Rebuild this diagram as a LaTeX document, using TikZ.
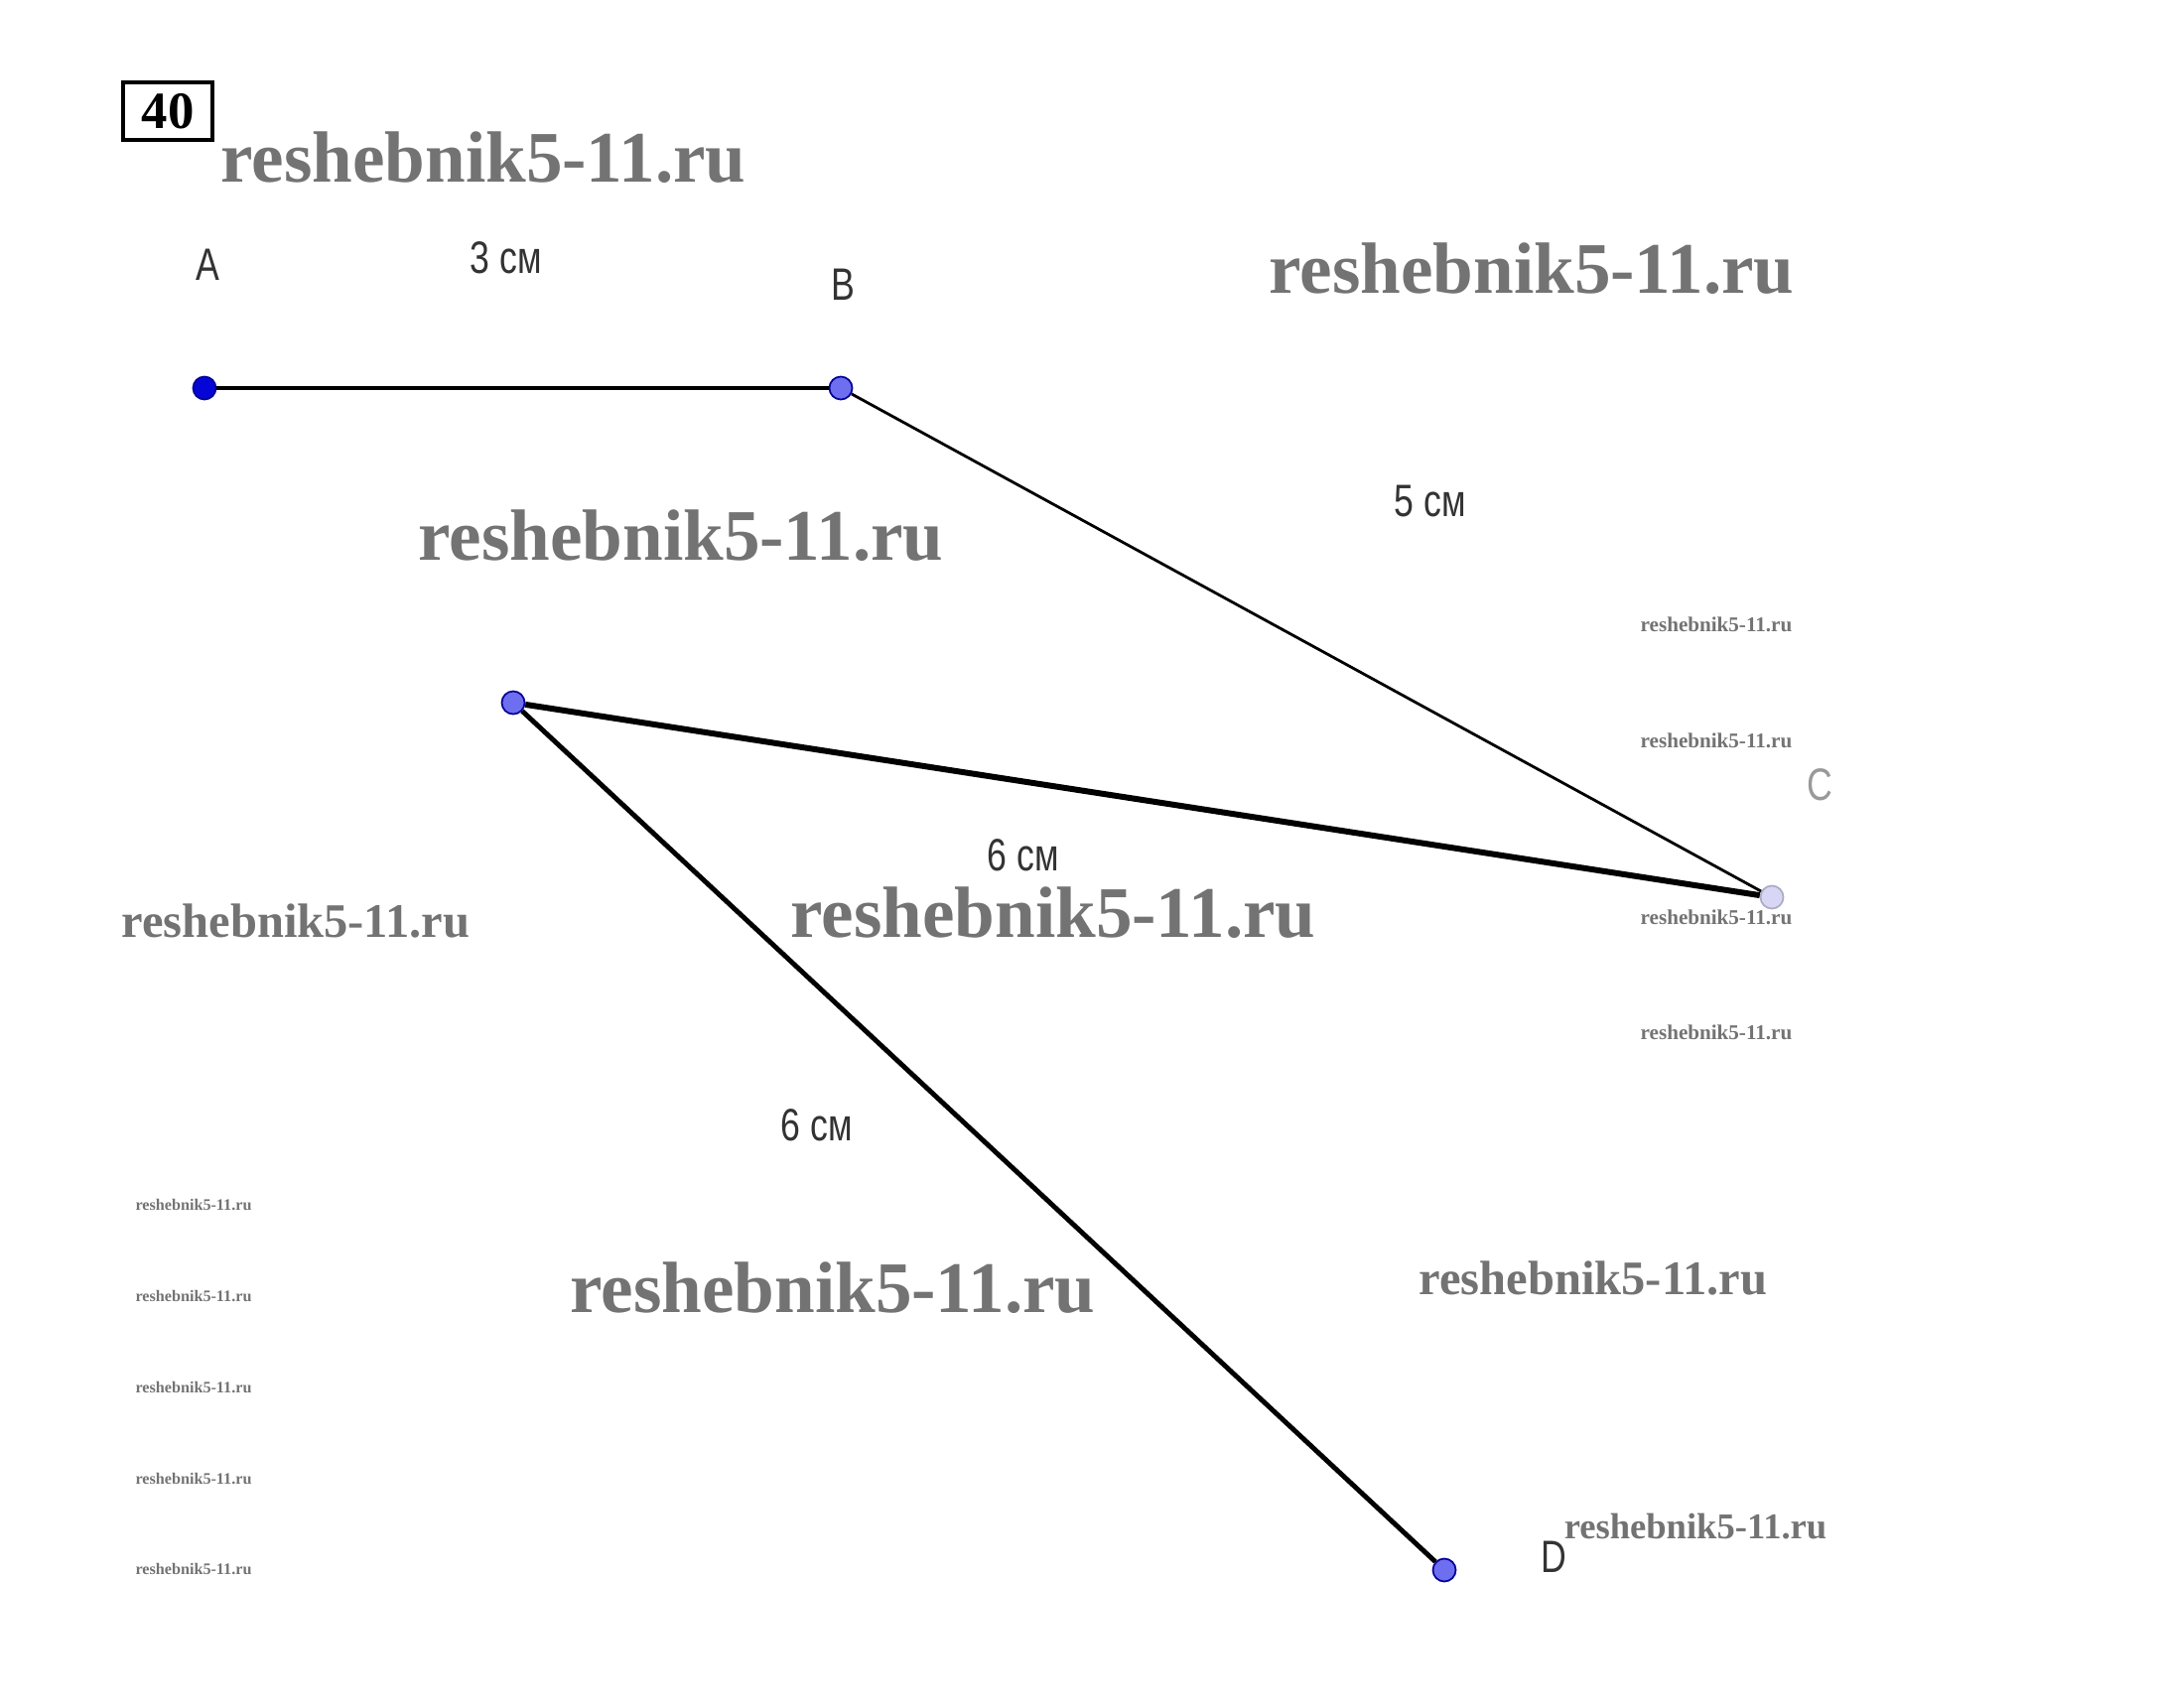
\documentclass[tikz,border=0pt]{standalone}
\usepackage{fontspec}
\setmainfont{Liberation Serif}
\newfontfamily\lblfont[FakeStretch=0.78]{Liberation Sans}
\usetikzlibrary{shapes}
\usetikzlibrary{arrows}
\definecolor{ptdark}{RGB}{5,5,215}
\definecolor{ptlight}{RGB}{110,110,240}
\definecolor{ptpale}{RGB}{215,215,245}
\definecolor{markgray}{RGB}{115,115,115}
\tikzset{
	point node/.style={circle,draw=ptdark!70!black,fill=#1,inner sep=0pt,minimum size=0.23cm,line width=0.5pt},
	mark text/.style={inner sep=0pt,text=markgray,font={\fontsize{#1pt}{#1pt}\selectfont\bfseries}},
	label text/.style={inner sep=0pt,text=black!80,font={\lblfont\fontsize{13pt}{13pt}\selectfont}},
	num box/.style={draw,line width=1.4pt,minimum width=0.9cm,minimum height=0.58cm,inner sep=0pt,font={\fontsize{15pt}{15pt}\selectfont\bfseries}}
}

\begin{document}
\begin{tikzpicture}[x=0.01cm,y=-0.01cm]
	\useasboundingbox (0,0) rectangle (2181,1721);
	% task number
	\node [num box] (num) at (169,112) {40};
	% watermarks
	\node [mark text=20.8] (w1) at (487,159) {reshebnik5-11.ru};
	\node [mark text=20.8] (w2) at (1543,271) {reshebnik5-11.ru};
	\node [mark text=20.8] (w3) at (686,540) {reshebnik5-11.ru};
	\node [mark text=20.8] (w4) at (1061,920) {reshebnik5-11.ru};
	\node [mark text=20.8] (w5) at (839,1298) {reshebnik5-11.ru};
	\node [mark text=13.8] (w6) at (298,928) {reshebnik5-11.ru};
	\node [mark text=13.8] (w7) at (1605,1288) {reshebnik5-11.ru};
	\node [mark text=10.4] (w8) at (1708,1538) {reshebnik5-11.ru};
	\foreach \y [count=\i] in {629,746,924,1040}
		\node [mark text=6] (r\i) at (1729,\y) {reshebnik5-11.ru};
	\foreach \y [count=\i] in {1214,1306,1398,1490,1581}
		\node [mark text=4.6] (l\i) at (195,\y) {reshebnik5-11.ru};
	% points
	\node [point node=ptdark] (A) at (206,391) {};
	\node [point node=ptlight] (B) at (847,391) {};
	\node [point node=ptlight] (E) at (517,708) {};
	\node [point node=ptpale,draw=ptpale!80!black] (C) at (1785,904) {};
	\node [point node=ptlight] (D) at (1455,1582) {};
	% segments
	\draw [line width=1pt] (A) -- (B);
	\draw [line width=0.8pt] (B) -- (C);
	\draw [line width=1.7pt] (E) -- (C);
	\draw [line width=1.4pt] (E) -- (D);
	% labels
	\node [label text] (la) at (209,267) {A};
	\node [label text] (lb) at (849,287) {B};
	\node [label text,text=black!40] (lc) at (1833,791) {C};
	\node [label text] (ld) at (1565,1569) {D};
	\node [label text] (ab) at (510,260) {3 см};
	\node [label text] (bc) at (1441,505) {5 см};
	\node [label text] (ec) at (1031,862) {6 см};
	\node [label text] (ed) at (823,1134) {6 см};
\end{tikzpicture}
\end{document}
